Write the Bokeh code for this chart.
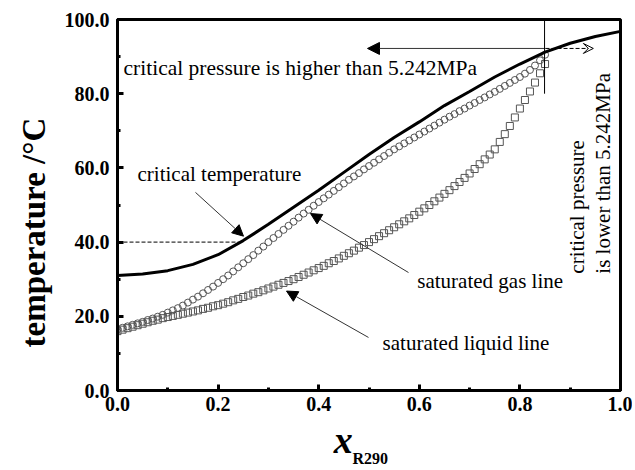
from bokeh.plotting import figure
from bokeh.layouts import column
from bokeh.models import (Range1d, SingleIntervalTicker, PrintfTickFormatter, Label,
                          Arrow, NormalHead, VeeHead, ColumnDataSource, Title)
from bokeh.embed import file_html
from bokeh.resources import INLINE
import math

# ---------------- data ----------------
x_sat = [i / 100 for i in range(0, 86)]
t_gas = [16.5, 16.9, 17.3, 17.7, 18.1, 18.5, 19.0, 19.4, 19.9, 20.4,
         21.0, 21.6, 22.2, 22.9, 23.7, 24.5, 25.3, 26.2, 27.1, 28.0,
         29.0, 30.0, 31.0, 32.1, 33.2, 34.3, 35.4, 36.5, 37.7, 38.8,
         40.0, 41.1, 42.2, 43.3, 44.4, 45.5, 46.6, 47.7, 48.7, 49.8,
         50.8, 51.8, 52.8, 53.8, 54.8, 55.8, 56.8, 57.7, 58.6, 59.6,
         60.5, 61.4, 62.3, 63.2, 64.1, 65.0, 65.8, 66.6, 67.4, 68.2,
         69.0, 69.8, 70.6, 71.4, 72.2, 73.0, 73.8, 74.5, 75.3, 76.0,
         76.8, 77.5, 78.3, 79.0, 79.8, 80.5, 81.3, 82.1, 82.9, 83.7,
         84.5, 85.4, 86.4, 87.6, 89.0, 90.5]
t_liq = [16.0, 16.4, 16.8, 17.2, 17.6, 18.0, 18.4, 18.8, 19.1, 19.5,
         19.8, 20.1, 20.4, 20.7, 21.0, 21.3, 21.6, 22.0, 22.3, 22.7,
         23.0, 23.4, 23.8, 24.3, 24.7, 25.2, 25.6, 26.1, 26.5, 27.0,
         27.5, 28.0, 28.5, 29.0, 29.5, 30.0, 30.6, 31.2, 31.8, 32.4,
         33.0, 33.6, 34.3, 34.9, 35.6, 36.3, 37.0, 37.7, 38.5, 39.2,
         40.0, 40.8, 41.6, 42.4, 43.2, 44.0, 44.8, 45.6, 46.4, 47.3,
         48.2, 49.1, 50.0, 51.0, 52.0, 53.0, 54.0, 55.1, 56.2, 57.3,
         58.5, 59.7, 61.0, 62.3, 63.6, 65.0, 67.0, 69.1, 71.3, 73.6,
         76.0, 78.3, 80.6, 83.0, 85.5, 88.0]
x_crit = [0.00, 0.05, 0.10, 0.15, 0.20, 0.25, 0.30, 0.35, 0.40, 0.45, 0.50,
          0.55, 0.60, 0.65, 0.70, 0.75, 0.80, 0.85, 0.90, 0.95, 1.00]
t_crit = [31.0, 31.4, 32.3, 34.0, 36.6, 40.4, 44.8, 49.4, 54.0, 58.8, 63.6,
          68.2, 72.4, 76.8, 80.6, 84.5, 88.0, 91.2, 93.6, 95.4, 96.8]

x_ticks_interval = 0.2
y_ticks_interval = 20

SERIF = "Liberation Serif"
W = 632
BL, BR = 117, 12

p = figure(width=W, height=419, output_backend="svg", toolbar_location=None,
           x_range=Range1d(0, 1), y_range=Range1d(0, 100),
           min_border_left=BL, min_border_right=BR, min_border_top=19, min_border_bottom=29)
p.grid.visible = False
p.background_fill_color = "white"
p.border_fill_color = "white"
p.outline_line_color = "black"
p.outline_line_width = 3

for ax, iv in ((p.xaxis, x_ticks_interval), (p.yaxis, y_ticks_interval)):
    ax.ticker = SingleIntervalTicker(interval=iv, num_minor_ticks=2)
    ax.formatter = PrintfTickFormatter(format="%.1f")
    ax.axis_line_width = 3
    ax.axis_line_color = "black"
    ax.major_tick_in = 6
    ax.major_tick_out = 0
    ax.minor_tick_in = 3
    ax.minor_tick_out = 0
    ax.major_tick_line_width = 3
    ax.minor_tick_line_width = 3
    ax.major_label_text_font = SERIF
    ax.major_label_text_font_style = "bold"
    ax.major_label_text_font_size = "20px"
    ax.major_label_text_color = "black"
p.xaxis.major_label_standoff = 6
p.yaxis.major_label_standoff = 8

# y axis title
p.add_layout(Title(text="temperature /°C", text_font=SERIF, text_font_size="33px",
                   text_font_style="bold", text_color="black", align="left",
                   offset=43, standoff=20), "left")

# markers
src_sat = ColumnDataSource(dict(x=x_sat, gas=t_gas, liq=t_liq))
p.scatter("x", "liq", source=src_sat, marker="square", size=7, fill_alpha=0,
          line_color="#555555", line_width=1)
p.scatter("x", "gas", source=src_sat, marker="circle", size=7, fill_alpha=0,
          line_color="#555555", line_width=1)
# critical temperature curve
p.line(x_crit, t_crit, line_color="black", line_width=3)

# dashed marker at 40 C
p.add_layout(Arrow(x_start=0, y_start=40, x_end=0.241, y_end=40, end=None,
                   line_color="black", line_width=1, line_dash="4 2"))

def arrow(xs, ys, xe, ye, size=11):
    p.add_layout(Arrow(x_start=xs, y_start=ys, x_end=xe, y_end=ye,
                       line_color="#333333", line_width=1,
                       end=NormalHead(size=size, fill_color="black", line_color="black")))

# horizontal arrows at top
arrow(0.851, 92.2, 0.497, 92.2, size=12)
p.add_layout(Arrow(x_start=0.851, y_start=92.2, x_end=0.946, y_end=92.2,
                   line_color="black", line_width=1, line_dash="4 2",
                   end=VeeHead(size=10, fill_color="white", line_color="black", line_width=1)))
# vertical line at critical composition
p.add_layout(Arrow(x_start=0.849, y_start=100, x_end=0.849, y_end=80.0, end=None,
                   line_color="black", line_width=1))

# annotation arrows
arrow(0.155, 53.4, 0.2505, 41.6)
arrow(0.5785, 31.8, 0.3837, 47.7)
arrow(0.499, 14.3, 0.336, 26.8)

def label(fig, x, y, text, size="21px", align="left", baseline="alphabetic", angle=0.0,
          style="normal"):
    fig.add_layout(Label(x=x, y=y, text=text, text_font=SERIF, text_font_size=size,
                         text_align=align, text_baseline=baseline, angle=angle,
                         text_font_style=style, text_color="black"))

label(p, 0.012, 86.8, "critical pressure is higher than 5.242MPa", size="21.5px")
label(p, 0.0398, 58.4, "critical temperature")
label(p, 0.596, 29.4, "saturated gas line")
label(p, 0.527, 12.9, "saturated liquid line")
label(p, 0.914, 31.5, "critical pressure", angle=math.pi / 2)
label(p, 0.965, 31.5, "is lower than 5.242MPa", angle=math.pi / 2)

# strip below the chart carrying the x axis title (x shared with chart)
QH = 49
q = figure(width=W, height=QH, output_backend="svg", toolbar_location=None, title=None,
           x_range=p.x_range, y_range=Range1d(QH, 0),
           x_axis_type=None, y_axis_type=None,
           min_border_left=BL, min_border_right=BR, min_border_top=0, min_border_bottom=0)
q.grid.visible = False
q.outline_line_color = None
q.background_fill_color = "white"
q.border_fill_color = "white"
label(q, 0.430, 20.5, "x", size="38px", style="bold italic")
label(q, 0.467, 38.5, "R290", size="16px", style="bold")

open("out.html", "w").write(file_html(column(p, q, spacing=0), INLINE))
